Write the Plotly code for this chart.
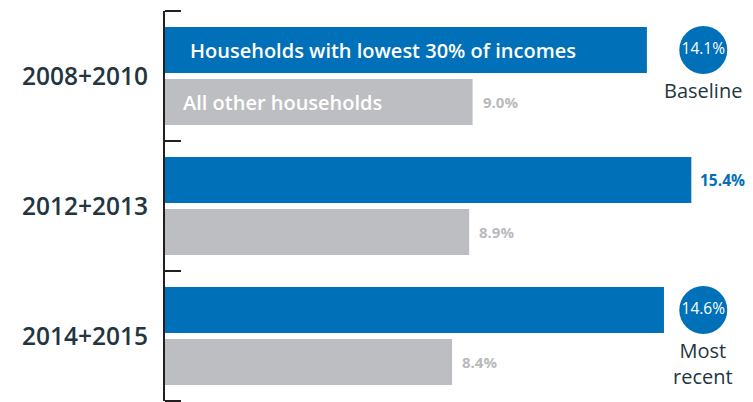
import plotly.graph_objects as go

# ---- data ----
periods = ["2008+2010", "2012+2013", "2014+2015"]
low_income = [14.1, 15.4, 14.6]
other_households = [9.0, 8.9, 8.4]
series_names = ["Households with lowest 30% of incomes", "All other households"]
circle_labels = ["Baseline", None, "Most<br>recent"]

BLUE = "#0070b9"
GREY = "#bdbec1"
GREY_TXT = "#b9babd"
DARK = "#233640"
FONT = "Open Sans"

idx = list(range(len(periods)))
blue_pos = [i - 0.2 for i in idx]
grey_pos = [i + 0.2 for i in idx]
BAR_W = 0.355
CIRCLE_X = 15.75

fig = go.Figure()
fig.add_trace(go.Bar(
    y=blue_pos, x=low_income, orientation="h", width=BAR_W,
    marker=dict(color=BLUE, line=dict(width=0)), name=series_names[0],
    hoverinfo="skip"))
fig.add_trace(go.Bar(
    y=grey_pos, x=other_households, orientation="h", width=BAR_W,
    marker=dict(color=GREY, line=dict(width=0)), name=series_names[1],
    hoverinfo="skip"))

# circles for baseline / most recent
cx, cy, ct = [], [], []
for i, lab in enumerate(circle_labels):
    if lab is not None:
        cx.append(CIRCLE_X)
        cy.append(blue_pos[i])
        ct.append(f"{low_income[i]:.1f}%")
fig.add_trace(go.Scatter(
    x=cx, y=cy, mode="markers+text", text=ct, textposition="middle center",
    marker=dict(size=48, color=BLUE, line=dict(width=0)),
    textfont=dict(family=FONT, size=15.5, color="white", weight=500),
    hoverinfo="skip", cliponaxis=False))

annotations = []
# series names inside first group's bars
annotations.append(dict(x=0, y=blue_pos[0], xref="x", yref="y", text=series_names[0],
                        showarrow=False, xanchor="left", xshift=23,
                        font=dict(family=FONT, size=20, color="white", weight=600)))
annotations.append(dict(x=0, y=grey_pos[0], xref="x", yref="y", text=series_names[1],
                        showarrow=False, xanchor="left", xshift=16,
                        font=dict(family=FONT, size=20, color="white", weight=600)))
# value labels
for i in idx:
    annotations.append(dict(x=other_households[i], y=grey_pos[i], xref="x", yref="y",
                            text=f"{other_households[i]:.1f}%", showarrow=False,
                            xanchor="left", xshift=8,
                            font=dict(family=FONT, size=15, color=GREY_TXT, weight=700)))
    if circle_labels[i] is None:
        annotations.append(dict(x=low_income[i], y=blue_pos[i], xref="x", yref="y",
                                text=f"{low_income[i]:.1f}%", showarrow=False,
                                xanchor="left", xshift=7,
                                font=dict(family=FONT, size=15.5, color=BLUE, weight=700)))
    else:
        annotations.append(dict(x=CIRCLE_X, y=blue_pos[i], xref="x", yref="y",
                                text=circle_labels[i], showarrow=False,
                                xanchor="center", yanchor="top", yshift=-25,
                                font=dict(family=FONT, size=20, color=DARK, weight=500)))

fig.update_layout(
    width=753, height=402,
    margin=dict(l=165, r=7, t=11, b=1),
    paper_bgcolor="white", plot_bgcolor="white",
    barmode="overlay", showlegend=False,
    annotations=annotations,
    xaxis=dict(range=[0, 17], visible=False, fixedrange=True),
    yaxis=dict(
        range=[2.5, -0.5], tickmode="array", tickvals=idx, ticktext=periods,
        ticks="", showgrid=False, zeroline=False, fixedrange=True,
        showline=True, linecolor="#231f20", linewidth=2,
        ticklabelstandoff=10,
        tickfont=dict(family=FONT, size=24.5, color=DARK, weight=600),
        minor=dict(tickmode="array", tickvals=[-0.5, 0.5, 1.5, 2.5], ticks="inside",
                   ticklen=16, tickwidth=2, tickcolor="#231f20", showgrid=False),
    ),
)

fig.write_html("out.html", config={"displayModeBar": False},
               post_script="document.body.style.margin='0';")
